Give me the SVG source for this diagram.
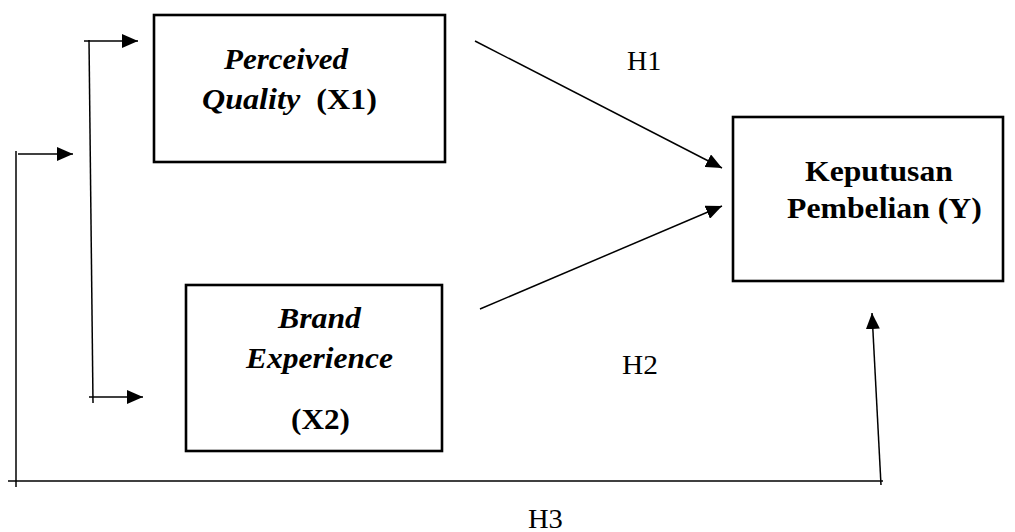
<svg xmlns="http://www.w3.org/2000/svg" width="1015" height="532" viewBox="0 0 1015 532">
<style>
.box{fill:#fff;stroke:#000;stroke-width:2.6}
.ln{fill:none;stroke:#000;stroke-width:1.5}
text{font-family:"Liberation Serif","Times New Roman",serif;font-size:29px;fill:#000}
.b{font-weight:bold}
.bi{font-weight:bold;font-style:italic}
.h{font-size:28px}
</style>
<defs>
<marker id="ah" markerUnits="userSpaceOnUse" markerWidth="16" markerHeight="14" refX="16" refY="7" orient="auto" viewBox="0 0 16 14">
<path d="M0,0 L16,7 L0,14 z" fill="#000"/>
</marker>
</defs>
<g id="connectors">
<line class="ln" x1="89" y1="40" x2="93" y2="403"/>
<line class="ln" x1="84" y1="41" x2="138" y2="41" marker-end="url(#ah)"/>
<line class="ln" x1="89" y1="397" x2="143" y2="397" marker-end="url(#ah)"/>
<line class="ln" x1="16" y1="151" x2="16" y2="487"/>
<line class="ln" x1="18" y1="154" x2="73" y2="154" marker-end="url(#ah)"/>
<line class="ln" x1="8" y1="481" x2="883" y2="481"/>
<line class="ln" x1="881" y1="485" x2="872" y2="313" marker-end="url(#ah)"/>
<line class="ln" x1="475" y1="41" x2="722" y2="168" marker-end="url(#ah)"/>
<line class="ln" x1="480" y1="309" x2="722" y2="206" marker-end="url(#ah)"/>
</g>
<g id="x1">
<rect class="box" x="154" y="15" width="291" height="147"/>
<text class="bi" transform="translate(224,69) scale(1.07,1)">Perceived</text>
<text transform="translate(202,109) scale(1.108,1)"><tspan class="bi">Quality</tspan><tspan class="b" x="103.1">(X1)</tspan></text>
</g>
<g id="x2">
<rect class="box" x="186" y="285" width="256" height="166"/>
<text class="bi" transform="translate(278,328) scale(1.096,1)">Brand</text>
<text class="bi" transform="translate(246,368) scale(1.086,1)">Experience</text>
<text class="b" transform="translate(291,429) scale(1.077,1)">(X2)</text>
</g>
<g id="y">
<rect class="box" x="733" y="117" width="270" height="164"/>
<text class="b" transform="translate(805,181) scale(1.093,1)">Keputusan</text>
<text class="b" transform="translate(787,218) scale(1.095,1)">Pembelian (Y)</text>
</g>
<g id="labels">
<text class="h" transform="translate(627,70)">H1</text>
<text class="h" transform="translate(622,374) scale(1.05,1)">H2</text>
<text class="h" transform="translate(528,528) scale(1.02,1)">H3</text>
</g>
</svg>
